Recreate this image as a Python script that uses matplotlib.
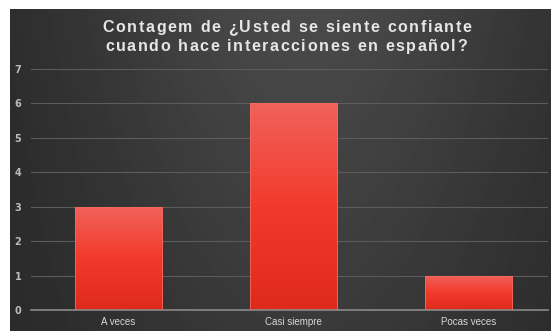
import numpy as np
import matplotlib.pyplot as plt
from matplotlib.colors import LinearSegmentedColormap
from matplotlib.textpath import TextToPath
from matplotlib.font_manager import FontProperties

categories = ['A veces', 'Casi siempre', 'Pocas veces']
counts = [3, 6, 1]
yticks = [0, 1, 2, 3, 4, 5, 6, 7]
title_lines = ['Contagem de ¿Usted se siente confiante',
               'cuando hace interacciones en español?']

W, H = 551, 331
fig = plt.figure(figsize=(W / 100, H / 100), dpi=100)
fig.patch.set_facecolor('white')

# dark panel with soft gradient
bg = fig.add_axes([10 / W, 0, 541 / W, 322 / H])
bg.axis('off')
xx = np.linspace(0, 1, 300)
yy = np.linspace(0, 1, 200)
X, Y = np.meshgrid(xx, yy)
glow = np.exp(-((X - 0.55) / 0.45) ** 2) * (0.55 + 0.45 * Y)
shade = 0.15 + 0.14 * glow
bg.imshow(shade, cmap='gray', vmin=0, vmax=1, aspect='auto',
          extent=[0, 1, 0, 1], origin='lower')
bg.set_xlim(0, 1)
bg.set_ylim(0, 1)

ax = fig.add_axes([31 / W, 21 / H, 517 / W, 241 / H])
ax.patch.set_alpha(0)
x = np.arange(len(categories))
bars = ax.bar(x, counts, width=0.5, color='none', edgecolor='#f26b60',
              linewidth=0.6, zorder=3)

red = LinearSegmentedColormap.from_list('red', ['#de2a1c', '#f23a2c', '#f0625a'])
grad = np.linspace(0, 1, 100).reshape(-1, 1)
for b in bars:
    im = ax.imshow(grad, cmap=red, aspect='auto', origin='lower', zorder=2,
                   extent=[b.get_x(), b.get_x() + b.get_width(), 0, b.get_height()])
    im.set_clip_path(b)

ax.set_xlim(-0.5, 2.454)
ax.set_ylim(0, 7)
ax.set_yticks(yticks)
ax.set_xticks(x)
ax.set_xticklabels(categories, family='Liberation Sans', fontsize=7.5)
ax.grid(axis='y', color='#5c5c5c', linewidth=0.8)
ax.set_axisbelow(True)
for s in ['top', 'right', 'left']:
    ax.spines[s].set_visible(False)
ax.spines['bottom'].set_color('#8a8a8a')
ax.spines['bottom'].set_linewidth(1.2)
ax.tick_params(length=0, colors='#d8d8d8', labelsize=7)
ax.tick_params(axis='y', pad=7)
ax.tick_params(axis='x', pad=5)
for t in ax.get_yticklabels():
    t.set_fontweight('bold')
    t.set_color('#bbbbbb')

# title with wide letter spacing, drawn char by char
prop = FontProperties(family='Liberation Sans', weight='bold', size=11.5)
ttp = TextToPath()
spacing = 1.65  # px between letters
px = 100 / 72


def char_w(ch):
    w, _, _ = ttp.get_text_width_height_descent(ch, prop, ismath=False)
    return w * px


def spaced_text(line, cx, baseline):
    widths = [char_w(c) for c in line]
    total = sum(widths) + spacing * (len(line) - 1)
    cur = cx - total / 2
    for c, w in zip(line, widths):
        fig.text(cur / W, 1 - baseline / H, c, fontproperties=prop,
                 color='#e6e6e6', ha='left', va='baseline')
        cur += w + spacing


spaced_text(title_lines[0], 287, 32)
spaced_text(title_lines[1], 286, 51)

fig.savefig('out.png', dpi=100)
